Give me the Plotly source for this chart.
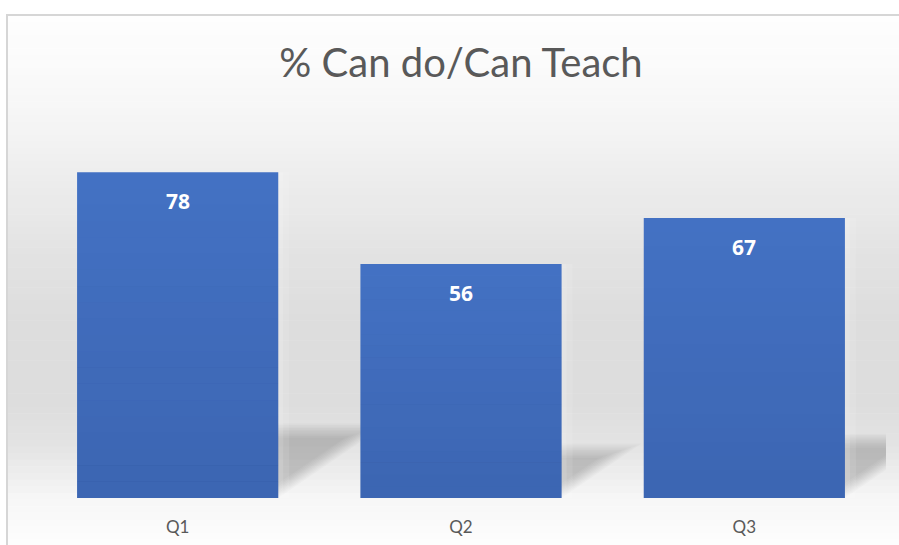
import plotly.graph_objects as go
import numpy as np

# ---- data ----
categories = ["Q1", "Q2", "Q3"]
values = [78, 56, 67]
title_text = "% Can do/Can Teach"

W, H = 899, 545
ML, MR, MT, MB = 36, 13, 122, 47
PW, PH = W - ML - MR, H - MT - MB
YMAX = 90
BAR_W = 0.71

XU = PW / 3.0      # px per x unit
YU = PH / YMAX     # px per y unit

def px_to_py(Y):
    return (H - MB - Y) / PH

def px_to_px(X):
    return (X - ML) / PW

xs = list(range(len(categories)))

fig = go.Figure()
fig.add_trace(go.Bar(
    x=xs, y=values, width=BAR_W,
    marker=dict(color="#4472C4", line=dict(width=0)),
    hoverinfo="skip", showlegend=False,
))

shapes = []
# background vertical gradient inside frame
stops = [(15, 254), (60, 251), (120, 245), (180, 237), (250, 227), (320, 221),
         (400, 221), (440, 226), (470, 236), (500, 247), (545, 253)]
sy = np.array([s[0] for s in stops], float)
sg = np.array([s[1] for s in stops], float)
n_bg = 80
edges = np.linspace(15, 546, n_bg + 1)
for i in range(n_bg):
    yc = 0.5 * (edges[i] + edges[i + 1])
    g = int(round(np.interp(yc, sy, sg)))
    shapes.append(dict(type="rect", xref="paper", yref="paper", layer="below",
                       x0=px_to_px(8), x1=px_to_px(905),
                       y0=px_to_py(edges[i + 1] + 0.5), y1=px_to_py(edges[i]),
                       fillcolor=f"rgb({g},{g},{g})", line=dict(width=0)))
# frame border
shapes.append(dict(type="rect", xref="paper", yref="paper", layer="below",
                   x0=px_to_px(7), x1=px_to_px(910), y0=px_to_py(560), y1=px_to_py(15),
                   fillcolor="rgba(0,0,0,0)", line=dict(color="#d6d6d6", width=2)))

# shadows (perspective, blurred by layering)
K = 0.22          # shadow height relative to bar
SHEAR = 1.47      # horizontal shift per vertical px
n_sh = 10
for xi, v in zip(xs, values):
    x0, x1 = xi - BAR_W / 2, xi + BAR_W / 2
    hk_px = K * v * YU
    for j in range(n_sh):
        top_px = hk_px + 3 - j * 1.6       # soften top edge
        inset_px = j * 2.4                 # soften diagonal edge
        top = top_px / YU
        sh = SHEAR * top_px / XU
        ins = inset_px / XU
        path = (f"M {x0},0 L {x1 - ins},0 L {x1 + sh - ins},{top} L {x0 + sh},{top} Z")
        shapes.append(dict(type="path", xref="x", yref="y", layer="below", path=path,
                           fillcolor="rgba(0,0,0,0.02)", line=dict(width=0)))
    # subtle light glow to the right of the bar
    for j, a in enumerate([0.12, 0.1]):
        shapes.append(dict(type="rect", xref="x", yref="y", layer="below",
                           x0=x1, x1=x1 + (5 + 6 * j) / XU, y0=0, y1=v,
                           fillcolor=f"rgba(255,255,255,{a})", line=dict(width=0)))

# bar gradient overlay (darker toward bottom)
n_gr = 20
for xi, v in zip(xs, values):
    x0, x1 = xi - BAR_W / 2, xi + BAR_W / 2
    e = np.linspace(0, v, n_gr + 1)
    for j in range(n_gr):
        frac = 1 - (0.5 * (e[j] + e[j + 1]) / v)
        a = 0.13 * frac
        shapes.append(dict(type="rect", xref="x", yref="y", layer="above",
                           x0=x0, x1=x1, y0=e[j], y1=e[j + 1] + 0.02,
                           fillcolor=f"rgba(10,20,60,{a:.4f})", line=dict(width=0)))

annotations = []
for xi, v in zip(xs, values):
    annotations.append(dict(x=xi, y=v, xref="x", yref="y", text=str(v), showarrow=False,
                            yshift=-29, yanchor="middle",
                            font=dict(family="Open Sans", size=21, color="white", weight="bold")))

fig.update_layout(
    width=W, height=H,
    margin=dict(l=ML, r=MR, t=MT, b=MB, pad=0),
    paper_bgcolor="white", plot_bgcolor="rgba(0,0,0,0)",
    title=dict(text=title_text, x=0.5, xref="paper", xanchor="center",
               y=1 - 63 / H, yref="container", yanchor="middle",
               font=dict(family="Lato", size=40, color="#595959")),
    shapes=shapes, annotations=annotations,
    xaxis=dict(range=[-0.5, 2.5], tickvals=xs, ticktext=categories, showgrid=False,
               zeroline=False, showline=False, ticks="", ticklabelstandoff=17,
               automargin=False,
               tickfont=dict(family="Lato", size=17, color="#595959"), fixedrange=True),
    yaxis=dict(range=[0, YMAX], visible=False, fixedrange=True, automargin=False),
    bargap=0.29,
)

fig.write_html("out.html")
